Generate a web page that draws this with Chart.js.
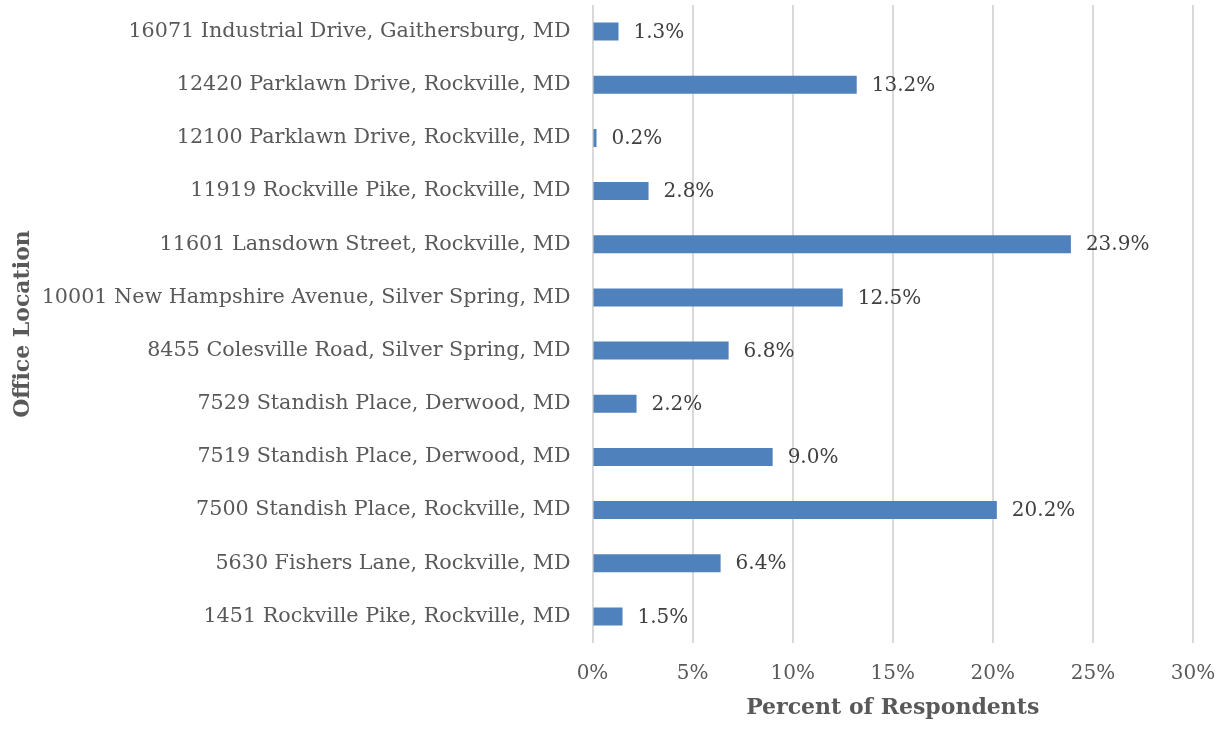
<!DOCTYPE html>
<html>
<head>
<meta charset="utf-8">
<script src="https://cdn.jsdelivr.net/npm/chart.js@4/dist/chart.umd.min.js"></script>
<style>
  html, body { margin: 0; padding: 0; background: #fff; }
  #wrap { width: 1228px; height: 753px; }
</style>
</head>
<body>
<div id="wrap"><canvas id="chart"></canvas></div>
<script>
// office locations, top to bottom as in the picture
const locations = [
    '16071 Industrial Drive, Gaithersburg, MD',
    '12420 Parklawn Drive, Rockville, MD',
    '12100 Parklawn Drive, Rockville, MD',
    '11919 Rockville Pike, Rockville, MD',
    '11601 Lansdown Street, Rockville, MD',
    '10001 New Hampshire Avenue, Silver Spring, MD',
    '8455 Colesville Road, Silver Spring, MD',
    '7529 Standish Place, Derwood, MD',
    '7519 Standish Place, Derwood, MD',
    '7500 Standish Place, Rockville, MD',
    '5630 Fishers Lane, Rockville, MD',
    '1451 Rockville Pike, Rockville, MD',
];
const percents = [1.3, 13.2, 0.2, 2.8, 23.9, 12.5, 6.8, 2.2, 9.0, 20.2, 6.4, 1.5];
const xTicks = [0, 5, 10, 15, 20, 25, 30];

const FONT = "'DejaVu Serif', 'Liberation Serif', serif";
const TEXT = '#595959';

// draws the value next to the end of each bar
const valueLabels = {
    id: 'valueLabels',
    afterDatasetsDraw(chart) {
        const ctx = chart.ctx;
        const meta = chart.getDatasetMeta(0);
        ctx.save();
        ctx.font = '20px ' + FONT;
        ctx.fillStyle = '#404040';
        ctx.textBaseline = 'middle';
        meta.data.forEach((bar, i) => {
            ctx.fillText(percents[i].toFixed(1) + '%', bar.x + 15, bar.y + 1);
        });
        ctx.restore();
    }
};

new Chart(document.getElementById('chart'), {
    type: 'bar',
    data: {
        labels: locations,
        datasets: [{
            data: percents,
            backgroundColor: '#4f81bd',
            borderWidth: 0,
            barPercentage: 0.34,
            categoryPercentage: 1.0,
        }]
    },
    options: {
        indexAxis: 'y',
        responsive: true,
        maintainAspectRatio: false,
        animation: false,
        layout: { padding: { top: 5, right: 35, bottom: 32, left: 10 } },
        plugins: {
            legend: { display: false },
            tooltip: { enabled: false },
        },
        scales: {
            x: {
                min: 0,
                max: 30,
                afterBuildTicks: (axis) => { axis.ticks = xTicks.map(v => ({ value: v })); },
                afterFit: (axis) => {
                    axis.height = 78;
                    axis.paddingLeft = 0;
                    axis.paddingRight = 0;
                },
                grid: { color: '#d9d9d9', lineWidth: 2, drawTicks: false },
                border: { display: false },
                ticks: {
                    callback: (v) => v + '%',
                    color: TEXT,
                    font: { family: FONT, size: 20 },
                    padding: 19,
                    maxRotation: 0,
                },
                title: {
                    display: true,
                    text: 'Percent of Respondents',
                    color: TEXT,
                    font: { family: FONT, size: 22, weight: 'bold' },
                    padding: { top: 0, bottom: 0 },
                },
            },
            y: {
                afterFit: (axis) => {
                    axis.paddingTop = 0;
                    axis.paddingBottom = 0;
                    axis.width -= 9;
                },
                grid: { display: false, drawTicks: false },
                border: { display: false },
                ticks: {
                    color: TEXT,
                    font: { family: FONT, size: 20.7 },
                    padding: 22,
                    autoSkip: false,
                },
                title: {
                    display: true,
                    text: 'Office Location',
                    color: TEXT,
                    font: { family: FONT, size: 22, weight: 'bold' },
                    padding: { top: 0, bottom: 4 },
                },
            },
        },
    },
    plugins: [valueLabels],
});
</script>
</body>
</html>
